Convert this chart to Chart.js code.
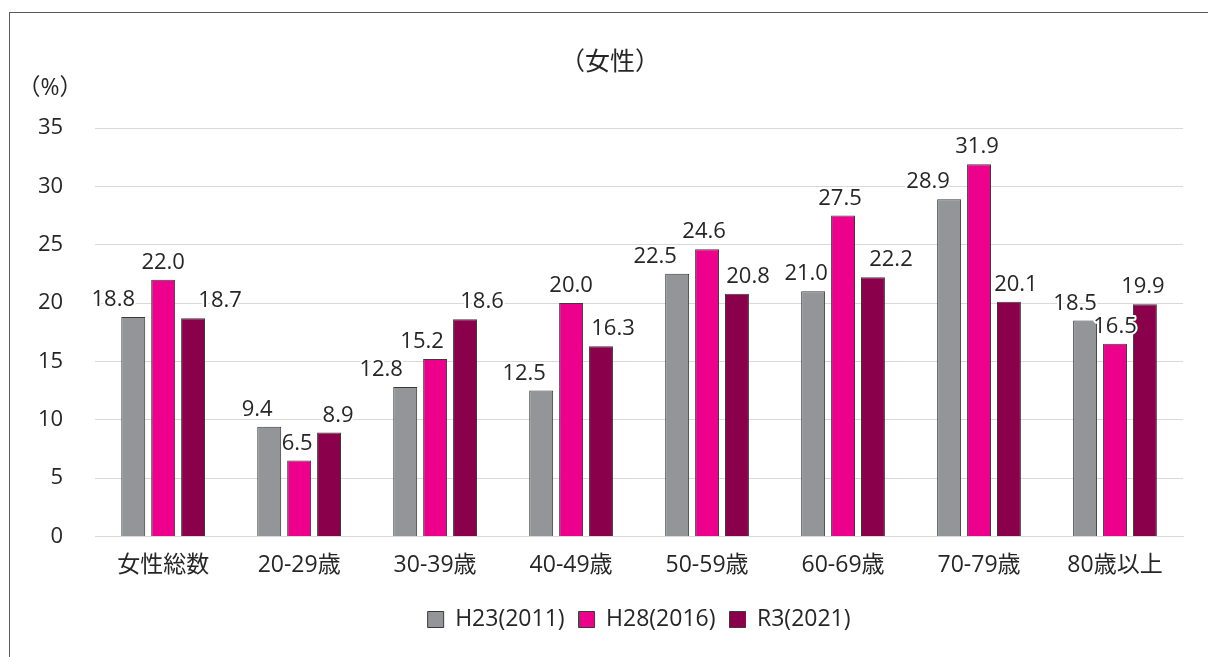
<!DOCTYPE html>
<html>
<head>
<meta charset="utf-8">
<script src="https://cdn.jsdelivr.net/npm/chart.js@4/dist/chart.umd.min.js"></script>
<style>
    html, body { margin: 0; padding: 0; background: #fff; overflow: hidden; }
    #frame {
        position: absolute; left: 9px; top: 12px;
        width: 1240px; height: 700px;
        border: 1px solid #595959;
    }
    #wrap { position: absolute; left: 0; top: 0; width: 1208px; height: 657px; }
</style>
</head>
<body>
<div id="frame"></div>
<div id="wrap"><canvas id="femaleChart" width="1208" height="657"></canvas></div>
<script>
// Chart data
const categories = ['女性総数', '20-29歳', '30-39歳', '40-49歳', '50-59歳', '60-69歳', '70-79歳', '80歳以上'];
const seriesNames = ['H23(2011)', 'H28(2016)', 'R3(2021)'];
const h23Values = [18.8, 9.4, 12.8, 12.5, 22.5, 21.0, 28.9, 18.5];
const h28Values = [22.0, 6.5, 15.2, 20.0, 24.6, 27.5, 31.9, 16.5];
const r3Values = [18.7, 8.9, 18.6, 16.3, 20.8, 22.2, 20.1, 19.9];
const yTicks = [0, 5, 10, 15, 20, 25, 30, 35];

// horizontal nudges of the value labels (px), as placed in the original
const labelShift = [
    [-20, -12, -24, -17, -22, -7, -21, -10],
    [0, -2, -13, 0, -3, -3, -2, 0],
    [27, 9, 17, 12, 11, 18, 7, -2]
];

const FONT = '"Open Sans", "Noto Sans CJK JP", sans-serif';
const TEXT = '#262626';

// Draws the value above each bar, plus title and unit label
const labelPlugin = {
    id: 'valueLabels',
    afterDatasetsDraw(chart) {
        const ctx = chart.ctx;
        ctx.save();
        ctx.font = `22px ${FONT}`;
        ctx.textAlign = 'center';
        ctx.textBaseline = 'alphabetic';
        ctx.lineJoin = 'round';
        chart.data.datasets.forEach((ds, i) => {
            chart.getDatasetMeta(i).data.forEach((bar, j) => {
                const txt = ds.data[j].toFixed(1);
                const x = bar.x + labelShift[i][j];
                const y = bar.y - 11;
                ctx.strokeStyle = '#fff';
                ctx.lineWidth = 4;
                ctx.strokeText(txt, x, y);
                ctx.fillStyle = TEXT;
                ctx.fillText(txt, x, y);
            });
        });
        // title and unit
        const area = chart.chartArea;
        ctx.textBaseline = 'middle';
        ctx.font = `25px ${FONT}`;
        ctx.fillText('（女性）', (area.left + area.right) / 2 - 29, area.top - 65);
        ctx.font = `23px ${FONT}`;
        ctx.fillText('（%）', 50, area.top - 40);
        ctx.restore();
    }
};

const ctx = document.getElementById('femaleChart').getContext('2d');
new Chart(ctx, {
    type: 'bar',
    data: {
        labels: categories,
        datasets: [
            { label: seriesNames[0], data: h23Values, backgroundColor: '#939598' },
            { label: seriesNames[1], data: h28Values, backgroundColor: '#ec008c' },
            { label: seriesNames[2], data: r3Values, backgroundColor: '#8b004b' }
        ].map(ds => Object.assign(ds, {
            borderColor: '#3a3a3a',
            borderWidth: 1,
            categoryPercentage: 0.66,
            barPercentage: 0.8
        }))
    },
    options: {
        responsive: false,
        animation: false,
        layout: { padding: { top: 128, left: 6, right: 25, bottom: 16 } },
        scales: {
            x: {
                grid: { display: false },
                border: { color: '#d9d9d9' },
                ticks: { color: TEXT, font: { family: FONT, size: 23 }, padding: 7 },
                afterFit(axis) { axis.height += 8; }
            },
            y: {
                min: 0,
                max: 35,
                afterBuildTicks(axis) {
                    axis.ticks = yTicks.map(v => ({ value: v }));
                },
                grid: { color: '#d9d9d9', drawTicks: false },
                border: { display: false },
                ticks: { color: TEXT, font: { family: FONT, size: 22 }, padding: 32 }
            }
        },
        plugins: {
            legend: {
                position: 'bottom',
                fullSize: false,
                labels: {
                    color: TEXT,
                    font: { family: FONT, size: 23 },
                    boxWidth: 16,
                    boxHeight: 16,
                    padding: 14
                }
            },
            tooltip: { enabled: false }
        }
    },
    plugins: [labelPlugin]
});
</script>
</body>
</html>
